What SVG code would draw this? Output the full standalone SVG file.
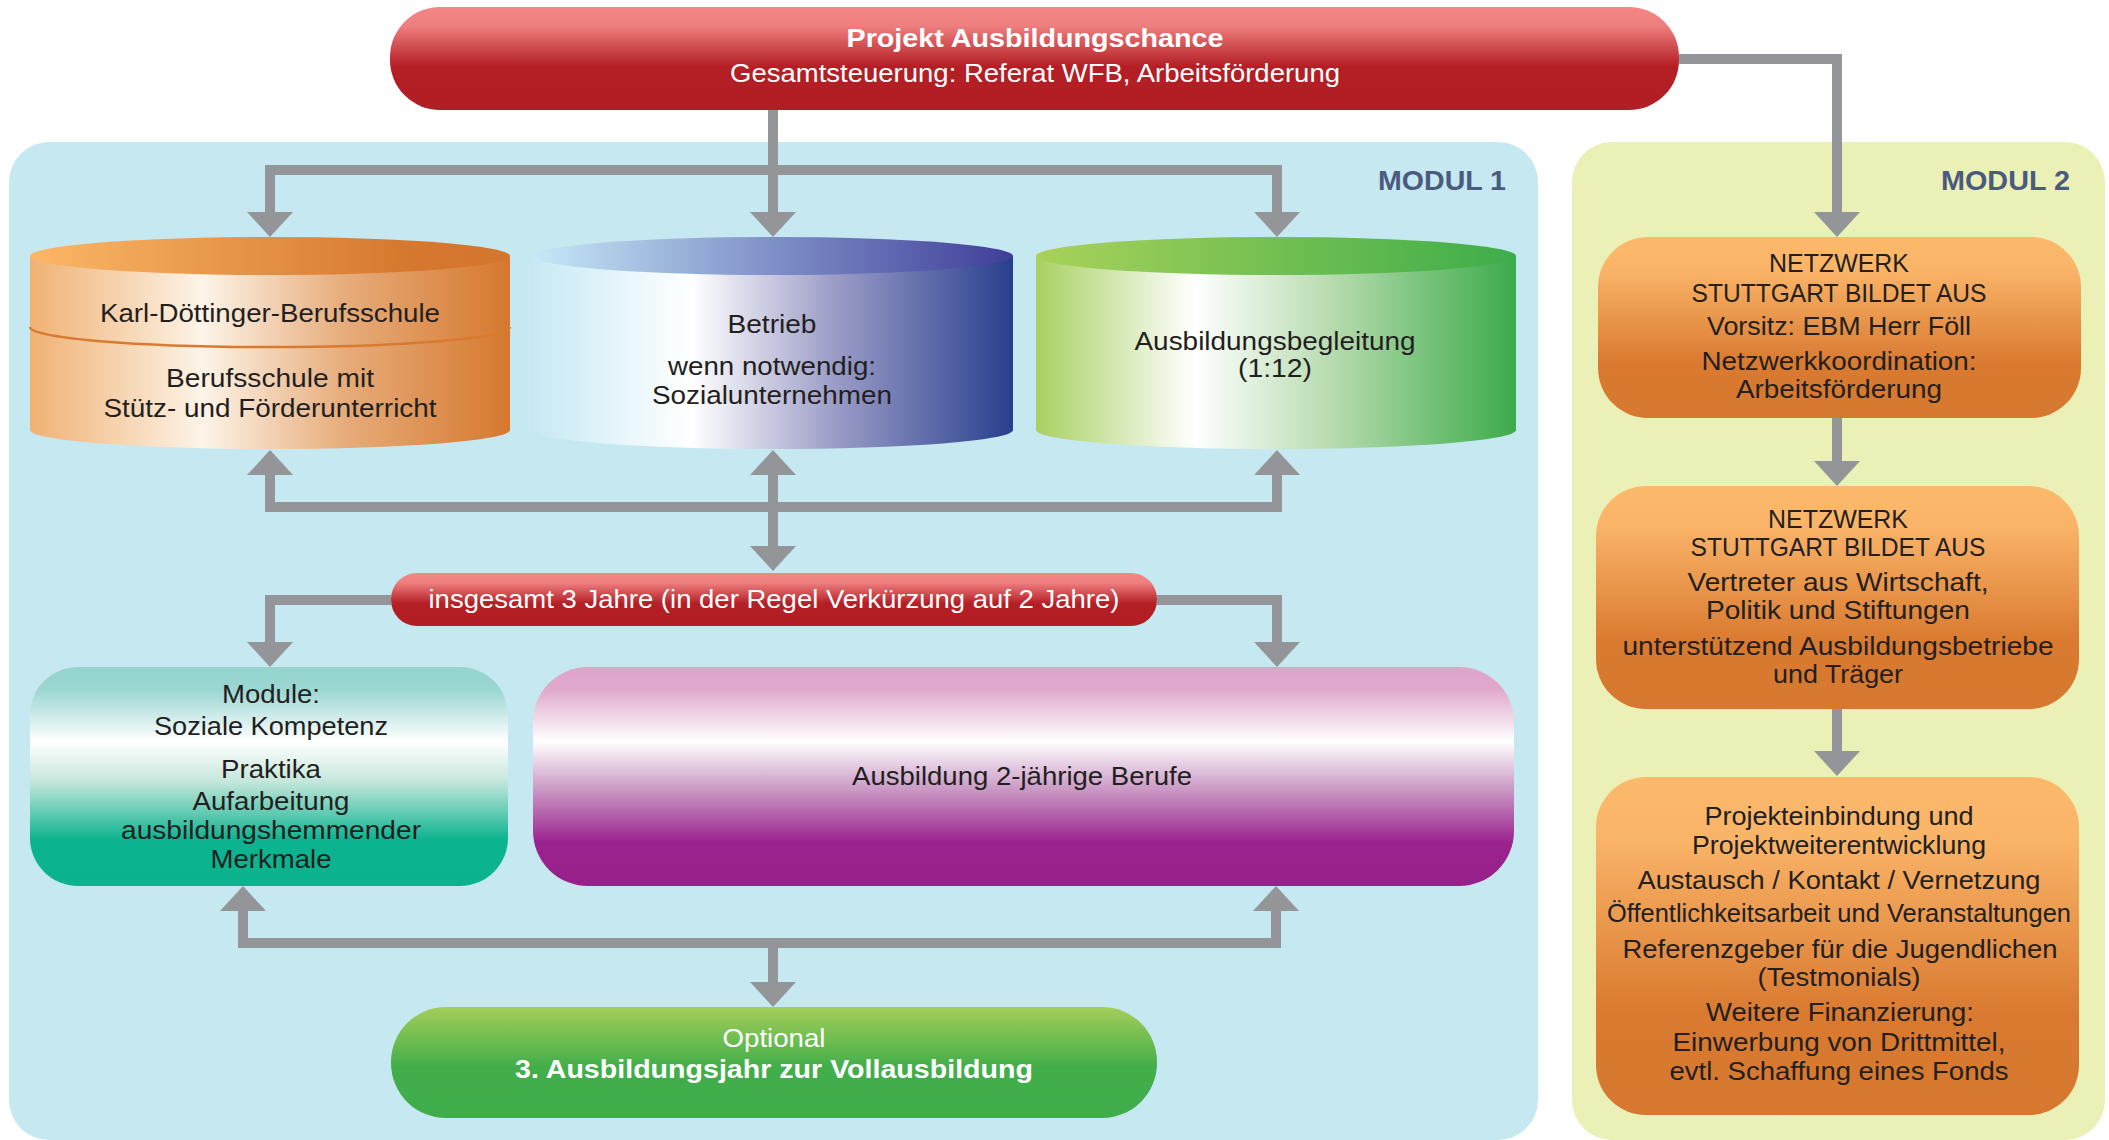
<svg xmlns="http://www.w3.org/2000/svg" width="2109" height="1140" viewBox="0 0 2109 1140">
<defs>
<linearGradient id="gRed" x1="0" y1="0" x2="0" y2="1">
<stop offset="0" stop-color="#f38686"/><stop offset="0.18" stop-color="#ef7f7f"/><stop offset="0.58" stop-color="#b41e25"/><stop offset="1" stop-color="#b31e24"/>
</linearGradient>
<linearGradient id="gTeal" x1="0" y1="0" x2="0" y2="1">
<stop offset="0" stop-color="#95d4d0"/><stop offset="0.1" stop-color="#9ad6d2"/><stop offset="0.34" stop-color="#ffffff"/><stop offset="0.52" stop-color="#c6e7dc"/><stop offset="0.79" stop-color="#0cb38f"/><stop offset="1" stop-color="#0ab38e"/>
</linearGradient>
<linearGradient id="gPurple" x1="0" y1="0" x2="0" y2="1">
<stop offset="0" stop-color="#dea5ca"/><stop offset="0.1" stop-color="#dfa8cc"/><stop offset="0.34" stop-color="#ffffff"/><stop offset="0.55" stop-color="#cc9dc7"/><stop offset="0.8" stop-color="#9b238f"/><stop offset="1" stop-color="#98208a"/>
</linearGradient>
<linearGradient id="gGreenBar" x1="0" y1="0" x2="0" y2="1">
<stop offset="0" stop-color="#a3ce59"/><stop offset="0.55" stop-color="#41ae4a"/><stop offset="1" stop-color="#3fad4a"/>
</linearGradient>
<linearGradient id="gOrangeBox" x1="0" y1="0" x2="0" y2="1">
<stop offset="0" stop-color="#fcb96b"/><stop offset="0.18" stop-color="#fab468"/><stop offset="0.7" stop-color="#d97a30"/><stop offset="1" stop-color="#d77830"/>
</linearGradient>
<linearGradient id="gOrangeTop" x1="0" y1="0" x2="1" y2="0">
<stop offset="0" stop-color="#fbb766"/><stop offset="0.8" stop-color="#d5772e"/><stop offset="1" stop-color="#d4762e"/>
</linearGradient>
<linearGradient id="gOrangeBody" x1="0" y1="0" x2="1" y2="0">
<stop offset="0" stop-color="#f0b173"/><stop offset="0.36" stop-color="#fdf4e8"/><stop offset="0.65" stop-color="#e7ad7c"/><stop offset="1" stop-color="#d6782e"/>
</linearGradient>
<linearGradient id="gBlueTop" x1="0" y1="0" x2="1" y2="0">
<stop offset="0" stop-color="#c6e9f7"/><stop offset="0.5" stop-color="#7f8fc8"/><stop offset="1" stop-color="#3f3e98"/>
</linearGradient>
<linearGradient id="gBlueBody" x1="0" y1="0" x2="1" y2="0">
<stop offset="0" stop-color="#c7e9f5"/><stop offset="0.33" stop-color="#ffffff"/><stop offset="0.62" stop-color="#9e9fc8"/><stop offset="1" stop-color="#283f8e"/>
</linearGradient>
<linearGradient id="gGreenTop" x1="0" y1="0" x2="1" y2="0">
<stop offset="0" stop-color="#a9d25a"/><stop offset="1" stop-color="#3dad4a"/>
</linearGradient>
<linearGradient id="gGreenBody" x1="0" y1="0" x2="1" y2="0">
<stop offset="0" stop-color="#a8d062"/><stop offset="0.33" stop-color="#ffffff"/><stop offset="0.62" stop-color="#b6dbae"/><stop offset="1" stop-color="#3cab4a"/>
</linearGradient>
<style>
.t{font-family:"Liberation Sans",Arial,sans-serif;font-size:26px;fill:#231f20;text-anchor:middle}
.w{fill:#ffffff}
.b{font-weight:bold}
.mod{font-family:"Liberation Sans",Arial,sans-serif;font-size:28px;font-weight:bold;fill:#4b5a7f;text-anchor:end}
.ln{fill:none;stroke:#939598;stroke-width:10;stroke-linejoin:miter}
.ah{fill:#939598}
</style>
</defs>

<g id="panels">
<rect id="modul1-panel" x="9" y="142" width="1529" height="998" rx="40" fill="#c6e8f1"/>
<rect id="modul2-panel" x="1572" y="142" width="533" height="998" rx="40" fill="#ebf0b6"/>
<text class="mod" x="1506" y="190" textLength="128" lengthAdjust="spacingAndGlyphs">MODUL 1</text>
<text class="mod" x="2070" y="190" textLength="129" lengthAdjust="spacingAndGlyphs">MODUL 2</text>
</g>

<g id="connectors">
<polyline class="ln" points="773,110 773,212"/>
<polyline class="ln" points="270,212 270,170 1277,170 1277,212"/>
<polygon class="ah" points="247,212 293,212 270,237"/>
<polygon class="ah" points="750,212 796,212 773,237"/>
<polygon class="ah" points="1254,212 1300,212 1277,237"/>
<polyline class="ln" points="1679,59 1837,59 1837,212"/>
<polygon class="ah" points="1814,212 1860,212 1837,237"/>
<polyline class="ln" points="270,475 270,507 1277,507 1277,475"/>
<polyline class="ln" points="773,475 773,546"/>
<polygon class="ah" points="247,475 293,475 270,450"/>
<polygon class="ah" points="750,475 796,475 773,450"/>
<polygon class="ah" points="1254,475 1300,475 1277,450"/>
<polygon class="ah" points="750,546 796,546 773,571"/>
<polyline class="ln" points="391,600 270,600 270,642"/>
<polygon class="ah" points="247,642 293,642 270,667"/>
<polyline class="ln" points="1157,600 1277,600 1277,642"/>
<polygon class="ah" points="1254,642 1300,642 1277,667"/>
<polyline class="ln" points="243,911 243,943 1276,943 1276,911"/>
<polyline class="ln" points="773,943 773,982"/>
<polygon class="ah" points="220,911 266,911 243,886"/>
<polygon class="ah" points="1253,911 1299,911 1276,886"/>
<polygon class="ah" points="750,982 796,982 773,1007"/>
<polyline class="ln" points="1837,418 1837,461"/>
<polygon class="ah" points="1814,461 1860,461 1837,486"/>
<polyline class="ln" points="1837,709 1837,751"/>
<polygon class="ah" points="1814,751 1860,751 1837,776"/>
</g>

<g id="projekt">
<rect x="390" y="7" width="1289" height="103" rx="50" ry="50" fill="url(#gRed)"/>
<text class="t w b" x="1035" y="47" font-size="27" textLength="377" lengthAdjust="spacingAndGlyphs">Projekt Ausbildungschance</text>
<text class="t w" x="1035" y="82" textLength="610" lengthAdjust="spacingAndGlyphs">Gesamtsteuerung: Referat WFB, Arbeitsförderung</text>
</g>

<g id="berufsschule">
<path d="M30,256 L30,430 A240,19 0 0 0 510,430 L510,256 Z" fill="url(#gOrangeBody)"/>
<ellipse cx="270" cy="256" rx="240" ry="19" fill="url(#gOrangeTop)"/>
<path d="M30,327 A240,20 0 0 0 510,327" fill="none" stroke="#d97a30" stroke-width="2.5"/>
<text class="t" x="270" y="322" textLength="340" lengthAdjust="spacingAndGlyphs">Karl-Döttinger-Berufsschule</text>
<text class="t" x="270" y="387" textLength="208" lengthAdjust="spacingAndGlyphs">Berufsschule mit</text>
<text class="t" x="270" y="417" textLength="333" lengthAdjust="spacingAndGlyphs">Stütz- und Förderunterricht</text>
</g>

<g id="betrieb">
<path d="M533,256 L533,430 A240,19 0 0 0 1013,430 L1013,256 Z" fill="url(#gBlueBody)"/>
<ellipse cx="773" cy="256" rx="240" ry="19" fill="url(#gBlueTop)"/>
<text class="t" x="772" y="333" textLength="89" lengthAdjust="spacingAndGlyphs">Betrieb</text>
<text class="t" x="772" y="375" textLength="208" lengthAdjust="spacingAndGlyphs">wenn notwendig:</text>
<text class="t" x="772" y="404" textLength="240" lengthAdjust="spacingAndGlyphs">Sozialunternehmen</text>
</g>

<g id="begleitung">
<path d="M1036,256 L1036,430 A240,19 0 0 0 1516,430 L1516,256 Z" fill="url(#gGreenBody)"/>
<ellipse cx="1276" cy="256" rx="240" ry="19" fill="url(#gGreenTop)"/>
<text class="t" x="1275" y="350" textLength="281" lengthAdjust="spacingAndGlyphs">Ausbildungsbegleitung</text>
<text class="t" x="1275" y="377" textLength="74" lengthAdjust="spacingAndGlyphs">(1:12)</text>
</g>

<g id="insgesamt">
<rect x="391" y="573" width="766" height="53" rx="26" fill="url(#gRed)"/>
<text class="t w" x="774" y="608" textLength="691" lengthAdjust="spacingAndGlyphs">insgesamt 3 Jahre (in der Regel Verkürzung auf 2 Jahre)</text>
</g>

<g id="module">
<rect x="30" y="667" width="478" height="219" rx="48" fill="url(#gTeal)"/>
<text class="t" x="271" y="703" textLength="98" lengthAdjust="spacingAndGlyphs">Module:</text>
<text class="t" x="271" y="735" textLength="234" lengthAdjust="spacingAndGlyphs">Soziale Kompetenz</text>
<text class="t" x="271" y="778" textLength="100" lengthAdjust="spacingAndGlyphs">Praktika</text>
<text class="t" x="271" y="810" textLength="157" lengthAdjust="spacingAndGlyphs">Aufarbeitung</text>
<text class="t" x="271" y="839" textLength="300" lengthAdjust="spacingAndGlyphs">ausbildungshemmender</text>
<text class="t" x="271" y="868" textLength="121" lengthAdjust="spacingAndGlyphs">Merkmale</text>
</g>

<g id="ausbildung">
<rect x="533" y="667" width="981" height="219" rx="55" fill="url(#gPurple)"/>
<text class="t" x="1022" y="785" textLength="340" lengthAdjust="spacingAndGlyphs">Ausbildung 2-jährige Berufe</text>
</g>

<g id="optional">
<rect x="391" y="1007" width="766" height="111" rx="55" fill="url(#gGreenBar)"/>
<text class="t w" x="774" y="1047" textLength="103" lengthAdjust="spacingAndGlyphs">Optional</text>
<text class="t w b" x="774" y="1078" textLength="518" lengthAdjust="spacingAndGlyphs">3. Ausbildungsjahr zur Vollausbildung</text>
</g>

<g id="netzwerk1">
<rect x="1598" y="237" width="483" height="181" rx="50" fill="url(#gOrangeBox)"/>
<text class="t" x="1839" y="272" textLength="140" lengthAdjust="spacingAndGlyphs">NETZWERK</text>
<text class="t" x="1839" y="302" textLength="295" lengthAdjust="spacingAndGlyphs">STUTTGART BILDET AUS</text>
<text class="t" x="1839" y="335" textLength="264" lengthAdjust="spacingAndGlyphs">Vorsitz: EBM Herr Föll</text>
<text class="t" x="1839" y="370" textLength="275" lengthAdjust="spacingAndGlyphs">Netzwerkkoordination:</text>
<text class="t" x="1839" y="398" textLength="206" lengthAdjust="spacingAndGlyphs">Arbeitsförderung</text>
</g>

<g id="netzwerk2">
<rect x="1596" y="486" width="483" height="223" rx="50" fill="url(#gOrangeBox)"/>
<text class="t" x="1838" y="528" textLength="140" lengthAdjust="spacingAndGlyphs">NETZWERK</text>
<text class="t" x="1838" y="556" textLength="295" lengthAdjust="spacingAndGlyphs">STUTTGART BILDET AUS</text>
<text class="t" x="1838" y="591" textLength="301" lengthAdjust="spacingAndGlyphs">Vertreter aus Wirtschaft,</text>
<text class="t" x="1838" y="619" textLength="264" lengthAdjust="spacingAndGlyphs">Politik und Stiftungen</text>
<text class="t" x="1838" y="655" textLength="431" lengthAdjust="spacingAndGlyphs">unterstützend Ausbildungsbetriebe</text>
<text class="t" x="1838" y="683" textLength="130" lengthAdjust="spacingAndGlyphs">und Träger</text>
</g>

<g id="projekteinbindung">
<rect x="1596" y="777" width="483" height="338" rx="50" fill="url(#gOrangeBox)"/>
<text class="t" x="1839" y="825" textLength="269" lengthAdjust="spacingAndGlyphs">Projekteinbindung und</text>
<text class="t" x="1839" y="854" textLength="294" lengthAdjust="spacingAndGlyphs">Projektweiterentwicklung</text>
<text class="t" x="1839" y="889" textLength="403" lengthAdjust="spacingAndGlyphs">Austausch / Kontakt / Vernetzung</text>
<text class="t" x="1839" y="922" textLength="464" lengthAdjust="spacingAndGlyphs">Öffentlichkeitsarbeit und Veranstaltungen</text>
<text class="t" x="1840" y="958" textLength="435" lengthAdjust="spacingAndGlyphs">Referenzgeber für die Jugendlichen</text>
<text class="t" x="1839" y="986" textLength="163" lengthAdjust="spacingAndGlyphs">(Testmonials)</text>
<text class="t" x="1840" y="1021" textLength="268" lengthAdjust="spacingAndGlyphs">Weitere Finanzierung:</text>
<text class="t" x="1839" y="1051" textLength="333" lengthAdjust="spacingAndGlyphs">Einwerbung von Drittmittel,</text>
<text class="t" x="1839" y="1080" textLength="339" lengthAdjust="spacingAndGlyphs">evtl. Schaffung eines Fonds</text>
</g>
</svg>
